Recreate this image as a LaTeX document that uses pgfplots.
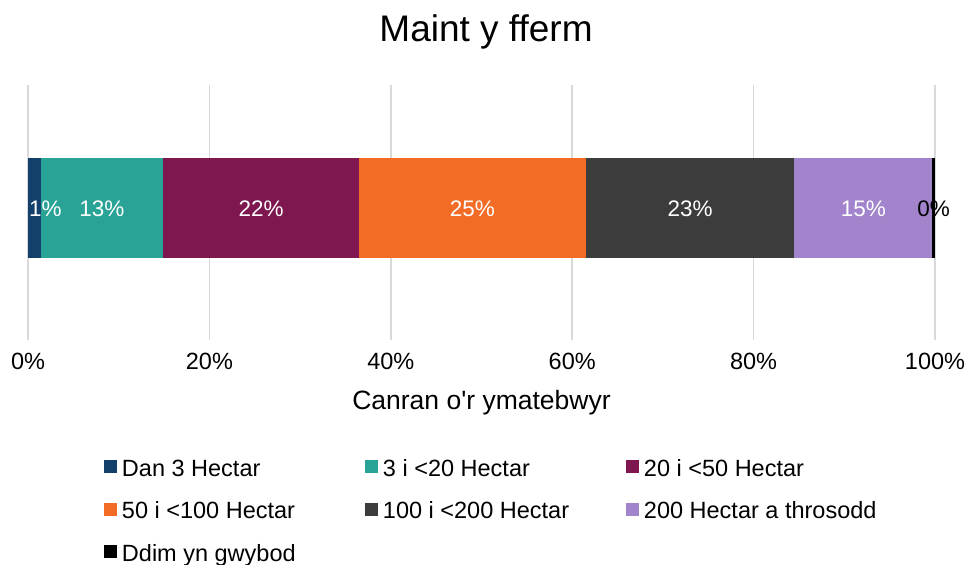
\documentclass[border=0pt]{standalone}
\usepackage{pgfplots}
\pgfplotsset{compat=1.18}
\usepackage{fontspec}
\setmainfont{Liberation Sans}
\definecolor{c1}{HTML}{12406A}
\definecolor{c2}{HTML}{29A396}
\definecolor{c3}{HTML}{7E1650}
\definecolor{c4}{HTML}{F36C26}
\definecolor{c5}{HTML}{3C3C3C}
\definecolor{c6}{HTML}{A284CC}
\definecolor{c7}{HTML}{000000}
\definecolor{gridc}{HTML}{D9D9D9}
\newcommand{\legtext}[1]{\makebox[243pt][l]{\rule[-6pt]{0pt}{26pt}#1}}
\begin{document}
\begin{tikzpicture}
\path[use as bounding box] (0,0) rectangle (967pt,565pt);
\begin{axis}[
  at={(28pt,225pt)}, anchor=south west,
  scale only axis, width=907pt, height=255pt,
  xbar stacked, bar width=100pt,
  xmin=0, xmax=100, ymin=0, ymax=255,
  axis line style={draw=none},
  major tick length=0pt,
  ytick=\empty,
  xtick={0,20,40,60,80,100},
  xticklabel={\pgfmathprintnumber{\tick}\%},
  /pgf/number format/assume math mode=true,
  xticklabel style={font=\fontsize{23.5}{28}\selectfont, anchor=base, yshift=-30pt},
  xmajorgrids, grid style={gridc, line width=1.5pt},
  xlabel={Canran o\textquotesingle r ymatebwyr},
  xlabel style={font=\fontsize{26.5}{32}\selectfont, at={(axis description cs:0.5,-0.2706)}, anchor=base},
  title={Maint y fferm},
  title style={font=\fontsize{37}{44}\selectfont, at={(axis description cs:0.505,1.1451)}, anchor=base},
  point meta=explicit symbolic,
  nodes near coords,
  every node near coord/.append style={font=\fontsize{22.5}{27}\selectfont, text=white, anchor=center, inner sep=0pt, yshift=-1pt},
  legend columns=3,
  legend cell align=left,
  legend image code/.code={\path[#1] (0pt,-6.5pt) rectangle (13pt,6.5pt);},
  legend style={draw=none, fill=none, inner sep=0pt, outer sep=0pt,
    at={(axis description cs:0.08379,-0.4549)}, anchor=north west,
    font=\fontsize{23.5}{28}\selectfont,
    nodes={inner sep=0pt, outer sep=0pt},
    column sep=0pt, row sep=21pt,
    /tikz/every odd column/.append style={column sep=5pt}},
]
\addplot[fill=c1, draw=none, every node near coord/.append style={xshift=11pt}] coordinates {(1.4,132) [1\%]};
\addlegendentry{\legtext{Dan 3 Hectar}}
\addplot[fill=c2, draw=none] coordinates {(13.5,132) [13\%]};
\addlegendentry{\legtext{3 i <20 Hectar}}
\addplot[fill=c3, draw=none] coordinates {(21.6,132) [22\%]};
\addlegendentry{\legtext{20 i <50 Hectar}}
\addplot[fill=c4, draw=none] coordinates {(25.0,132) [25\%]};
\addlegendentry{\legtext{50 i <100 Hectar}}
\addplot[fill=c5, draw=none] coordinates {(23.0,132) [23\%]};
\addlegendentry{\legtext{100 i <200 Hectar}}
\addplot[fill=c6, draw=none] coordinates {(15.2,132) [15\%]};
\addlegendentry{\legtext{200 Hectar a throsodd}}
\addplot[fill=c7, draw=none, every node near coord/.append style={text=black}] coordinates {(0.3,132) [0\%]};
\addlegendentry{\legtext{Ddim yn gwybod}}
\end{axis}
\end{tikzpicture}
\end{document}
